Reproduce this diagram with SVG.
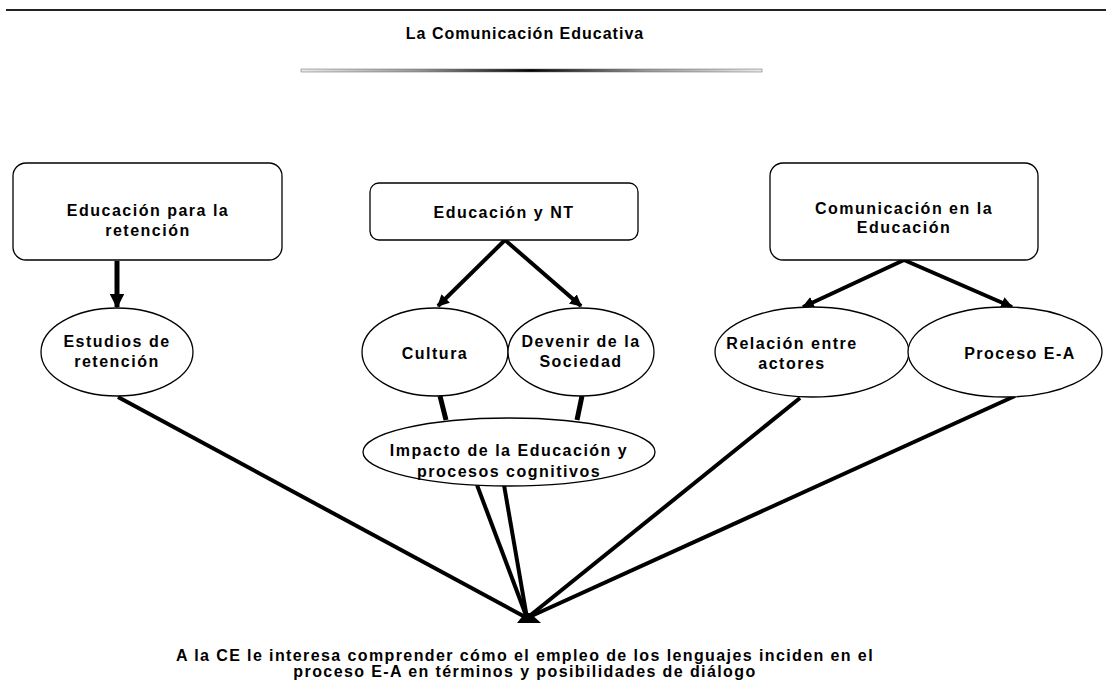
<svg xmlns="http://www.w3.org/2000/svg" width="1110" height="681" viewBox="0 0 1110 681">
<style>
.t{font-family:"Liberation Sans",Arial,sans-serif;font-weight:bold;font-size:16px;letter-spacing:1.5px;fill:#000;text-anchor:middle}
.f{font-size:16px;letter-spacing:1.4px}
.b{fill:#fff;stroke:#000;stroke-width:1.3}
.c{stroke:#000;stroke-width:4;fill:none}
</style>
<defs>
<marker id="ah" viewBox="0 0 10 10" refX="9" refY="5" markerWidth="3" markerHeight="3" orient="auto" markerUnits="strokeWidth">
<path d="M0,0 L10,5 L0,10 z" fill="#000"/>
</marker>
<linearGradient id="g" x1="0" x2="1" y1="0" y2="0">
<stop offset="0" stop-color="#e8e8e8"/>
<stop offset="0.25" stop-color="#999"/>
<stop offset="0.48" stop-color="#111"/>
<stop offset="0.5" stop-color="#000"/>
<stop offset="0.52" stop-color="#111"/>
<stop offset="0.75" stop-color="#999"/>
<stop offset="1" stop-color="#e8e8e8"/>
</linearGradient>
</defs>
<rect width="1110" height="681" fill="#fff"/>
<line x1="6" y1="10" x2="1106" y2="10" stroke="#222" stroke-width="2"/>
<text class="t" x="525" y="39" style="letter-spacing:1px">La Comunicación Educativa</text>
<rect x="301" y="69" width="461" height="3" fill="url(#g)" stroke="#666" stroke-width="0.5"/>

<g id="connectors">
<line class="c" x1="117" y1="261" x2="117" y2="307" marker-end="url(#ah)" style="stroke-width:5"/>
<line class="c" x1="505" y1="240" x2="438" y2="306" marker-end="url(#ah)"/>
<line class="c" x1="505" y1="240" x2="581" y2="306" marker-end="url(#ah)"/>
<line class="c" x1="440" y1="396" x2="446" y2="420" style="stroke-width:5"/>
<line class="c" x1="582" y1="396" x2="577" y2="420" style="stroke-width:5"/>
<line class="c" x1="904" y1="260" x2="803" y2="307" marker-end="url(#ah)"/>
<line class="c" x1="904" y1="260" x2="1012" y2="307" marker-end="url(#ah)"/>
<line class="c" x1="118" y1="397" x2="527" y2="618"/>
<line class="c" x1="477" y1="485" x2="527" y2="618"/>
<line class="c" x1="504" y1="485" x2="527" y2="618"/>
<line class="c" x1="800" y1="398" x2="527" y2="618"/>
<line class="c" x1="1015" y1="396" x2="527" y2="618"/>
<polygon points="517,623 541,623 530,613 525,613" fill="#000"/>
</g>

<g id="n1">
<rect class="b" x="13" y="163" width="269" height="97" rx="13"/>
<text class="t" x="148" y="216">Educación para la</text>
<text class="t" x="148" y="236">retención</text>
</g>
<g id="n2">
<rect class="b" x="370" y="183" width="268" height="57" rx="9"/>
<text class="t" x="504" y="218">Educación y NT</text>
</g>
<g id="n3">
<rect class="b" x="770" y="163" width="268" height="97" rx="13"/>
<text class="t" x="904" y="214">Comunicación en la</text>
<text class="t" x="904" y="233">Educación</text>
</g>
<g id="n4">
<ellipse class="b" cx="117" cy="352" rx="76" ry="44"/>
<text class="t" x="117" y="347">Estudios de</text>
<text class="t" x="117" y="367">retención</text>
</g>
<g id="n5">
<ellipse class="b" cx="435" cy="352" rx="73" ry="44"/>
<text class="t" x="435" y="359">Cultura</text>
</g>
<g id="n6">
<ellipse class="b" cx="581" cy="352" rx="73" ry="44"/>
<text class="t" x="581" y="347">Devenir de la</text>
<text class="t" x="581" y="367">Sociedad</text>
</g>
<g id="n7">
<ellipse class="b" cx="509" cy="452" rx="146" ry="34"/>
<text class="t" x="509" y="456">Impacto de la Educación y</text>
<text class="t" x="509" y="477">procesos cognitivos</text>
</g>
<g id="n8">
<ellipse class="b" cx="812" cy="352" rx="97" ry="45"/>
<text class="t" x="792" y="349">Relación entre</text>
<text class="t" x="792" y="369">actores</text>
</g>
<g id="n9">
<ellipse class="b" cx="1005" cy="352" rx="97" ry="45"/>
<text class="t" x="1020" y="359">Proceso E-A</text>
</g>

<g id="footer">
<text class="t f" x="525" y="661">A la CE le interesa comprender cómo el empleo de los lenguajes inciden en el</text>
<text class="t f" x="525" y="677">proceso E-A en términos y posibilidades de diálogo</text>
</g>
</svg>
